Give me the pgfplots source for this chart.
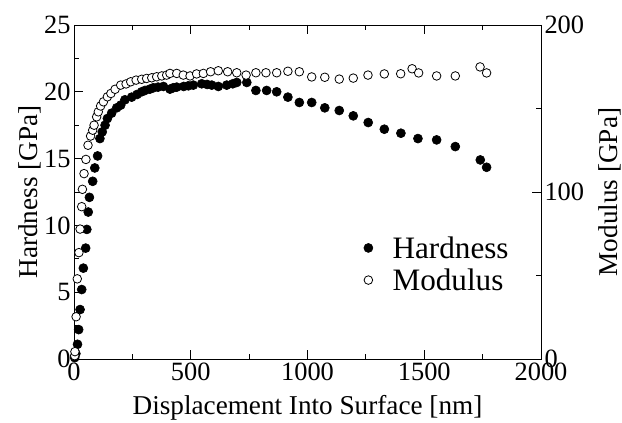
\documentclass[border=0pt]{standalone}
\usepackage{fontspec}
\setmainfont{Liberation Serif}
\usepackage{pgfplots}
\pgfplotsset{compat=1.18}
\begin{document}
\begin{tikzpicture}
\pgfplotsset{
  common/.style={
    scale only axis, width=467bp, height=334bp,
    xmin=0, xmax=2000, clip=false,
    tick align=inside,
    major tick length=9bp, minor tick length=5bp,
    /pgf/number format/assume math mode=true,
    /pgf/number format/1000 sep={},
    tick label style={font=\fontsize{26.5}{30}\selectfont},
    label style={font=\fontsize{27.3}{31}\selectfont},
    axis line style={line width=0.8bp},
    every tick/.style={line width=0.8bp, black},
  },
  hmark/.style={only marks, mark=*, mark size=4.5bp, mark options={fill=black, draw=black, line width=0.6bp}},
  mmark/.style={only marks, mark=*, mark size=4.3bp, mark options={fill=white, draw=black, line width=0.8bp}},
}
\begin{axis}[common,
  ymin=0, ymax=25,
  xtick={0,500,...,2000}, minor x tick num=1,
  ytick={0,5,...,25}, minor y tick num=1,
  ytick pos=left, xtick pos=both,
  xlabel={Displacement Into Surface [nm]},
  ylabel={Hardness [GPa]},
  xlabel style={at={(axis description cs:0.5,-0.1467)}, anchor=center},
  ylabel style={at={(axis description cs:-0.094,0.5)}, anchor=center},
  legend style={draw=none, fill=none, at={(axis description cs:0.6017,0.2844)}, anchor=west,
    font=\fontsize{31.3}{35}\selectfont, nodes={inner ysep=4.5bp, inner xsep=10bp}},
  legend cell align=left,
  legend image code/.code={\path (0bp,0bp) (24bp,0bp); \draw[mark repeat=2, mark phase=2, #1] plot coordinates {(0bp,0bp) (10bp,0bp) (24bp,0bp)};},
]
\addplot[hmark] coordinates {
(3,0.1) (8,0.4) (15,1.1) (20,2.2) (26,3.7) (33,5.2) (40,6.8) (50,8.3) (55,9.7) (61,11.0)
(66,12.1) (80,13.3) (89,14.3) (101,15.2) (111,16.5) (121,17.0) (133,17.5) (143,18.0) (161,18.4) (183,18.8)
(200,19.0) (218,19.4) (247,19.6) (270,19.8) (290,20.0) (304,20.1) (325,20.2) (340,20.3) (360,20.35) (383,20.4)
(411,20.2) (425,20.3) (440,20.35) (470,20.4) (490,20.45) (511,20.5) (547,20.6) (570,20.55) (590,20.5) (618,20.4)
(654,20.5) (680,20.6) (697,20.7) (740,20.7) (779,20.1) (825,20.1) (868,20.0) (916,19.6) (965,19.2) (1018,19.2)
(1074,18.8) (1136,18.6) (1196,18.2) (1260,17.7) (1329,17.2) (1400,16.9) (1473,16.5) (1553,16.4) (1633,15.9) (1740,14.9)
(1767,14.35)
};
\addlegendentry{Hardness}
\addlegendimage{mmark}
\addlegendentry{Modulus}
\end{axis}
\begin{axis}[common,
  ymin=0, ymax=200,
  axis x line=none, axis y line*=right,
  ytick={0,100,200}, minor y tick num=1,
  ylabel={Modulus [GPa]},
  ylabel style={at={(axis description cs:1.147,0.5)}, anchor=center},
]
\addplot[mmark] coordinates {
(3,2) (4,4.4) (9,25.3) (14,48) (21,63.7) (26,77.8) (33,91.2) (36,101.6) (43,111) (51,119.5)
(60,128) (71,133.5) (80,137) (86,140) (97,145) (104,148) (114,151.5) (126,154) (143,157) (158,159)
(176,161.5) (200,164) (223,164.7) (243,166) (266,167) (290,167.5) (311,168) (333,168.4) (354,169) (376,169.5)
(397,170) (411,171) (440,171) (468,170) (497,169.5) (525,170.7) (554,171) (585,172) (618,172.6) (658,172)
(697,171.4) (737,170) (779,171.4) (822,171.4) (868,171.4) (916,172.3) (965,172) (1018,168.9) (1074,168.7) (1136,167.6)
(1196,168.2) (1259,170) (1329,170.7) (1399,170.8) (1448,173.8) (1476,171.3) (1553,169.5) (1633,169.5) (1739,174.9) (1767,171.3)
};
\end{axis}
\pgfresetboundingbox
\path (-74bp,-64bp) rectangle (548bp,359bp);
\end{tikzpicture}
\end{document}
